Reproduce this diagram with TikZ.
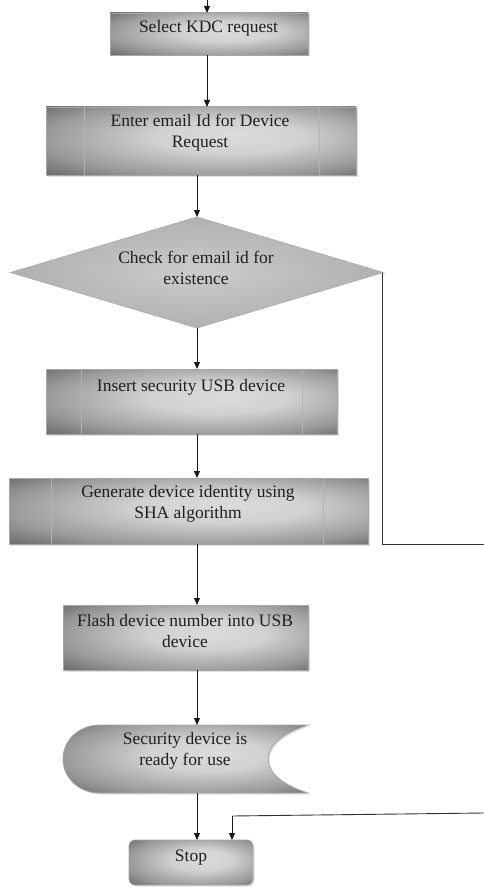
\documentclass[tikz,border=0pt]{standalone}
\usepackage{fontspec}
\setmainfont{Liberation Serif}
\usetikzlibrary{arrows.meta,shapes.geometric,shadows}
% soft grey fill: light in the middle, darker towards the corners
\pgfdeclareradialshading{greyglow}{\pgfpoint{6bp}{4bp}}{%
  color(0bp)=(black!14); color(12bp)=(black!18); color(28bp)=(black!40);
  color(40bp)=(black!64); color(50bp)=(black!72)}
\begin{document}
\begin{tikzpicture}[x=1pt,y=-1pt,
  every node/.style={inner sep=0pt,outer sep=0pt},
  boxfill/.style={draw=gray!70,line width=0.8pt,shading=greyglow,
    drop shadow={opacity=0.25,shadow xshift=1.5pt,shadow yshift=-1.5pt}},
  procbox/.style={rectangle,boxfill},
  txt/.style={font=\fontsize{17.5}{20.7}\selectfont,text=black!88,align=center},
  arr/.style={draw=black!90,line width=1pt,-{Triangle[width=6pt,length=7pt]}},
  flow/.style={draw=black!80,line width=0.9pt},
  inner/.style={draw=gray!60,line width=0.7pt}]
\useasboundingbox (0,0) rectangle (484,888);

% column guides for the connectors
\coordinate (ca) at (207,0);
\coordinate (cb) at (197,0);

% process steps
\node[procbox,minimum width=198pt,minimum height=42pt] (kdc) at (209,34) {};
\node[procbox,minimum width=310pt,minimum height=68pt] (email) at (201,141) {};
\draw[inner] ([xshift=38pt]email.north west) -- ([xshift=38pt]email.south west);
\draw[inner] ([xshift=-37pt]email.north east) -- ([xshift=-37pt]email.south east);

\node[diamond,draw=gray!60,line width=0.8pt,inner color=gray!40,outer color=gray!62,
  minimum width=373pt,minimum height=111pt] (check) at (197,272.5) {};

\node[procbox,minimum width=291pt,minimum height=65pt] (usb) at (191.5,401.5) {};
\draw[inner] ([xshift=35pt]usb.north west) -- ([xshift=35pt]usb.south west);
\draw[inner] ([xshift=-35pt]usb.north east) -- ([xshift=-35pt]usb.south east);

\node[procbox,minimum width=359pt,minimum height=66pt] (sha) at (188.5,511) {};
\draw[inner] ([xshift=42pt]sha.north west) -- ([xshift=42pt]sha.south west);
\draw[inner] ([xshift=-45pt]sha.north east) -- ([xshift=-45pt]sha.south east);

\node[procbox,minimum width=245pt,minimum height=65pt] (flash) at (185.5,637.5) {};

% display symbol
\path[boxfill] (100,725) -- (308,725)
  .. controls (283,733) and (268,745) .. (268,759)
  .. controls (268,773) and (283,785) .. (308,793)
  -- (100,793)
  .. controls (79,793) and (63,778) .. (63,759)
  .. controls (63,740) and (79,725) .. (100,725) -- cycle;
\node[rectangle,minimum width=245pt,minimum height=68pt] (ready) at (185.5,759) {};

\node[rectangle,rounded corners=6pt,boxfill,minimum width=124pt,minimum height=45pt] (stop) at (191,862.5) {};

% labels
\node[txt] at (208.5,28) {Select KDC request};
\node[txt] at (200,133) {Enter email Id for Device\\Request};
\node[txt] at (196,268) {Check for email id for\\existence};
\node[txt] at (191,387) {Insert security USB device};
\node[txt] at (188,504) {Generate device identity using\\SHA algorithm};
\node[txt] at (185,631) {Flash device number into USB\\device};
\node[txt] at (185,751) {Security device is\\ready for use};
\node[txt] at (191,858) {Stop};

% connectors
\draw[arr] (ca) -- (kdc.north -| ca);
\draw[arr] (kdc.south -| ca) -- (email.north -| ca);
\draw[arr] (email.south -| cb) -- (check.north);
\draw[arr] (check.south) -- (usb.north -| cb);
\draw[arr] (usb.south -| cb) -- (sha.north -| cb);
\draw[arr] (sha.south -| cb) -- (flash.north -| cb);
\draw[arr] (flash.south -| cb) -- (ready.north -| cb);
\draw[arr] (ready.south -| cb) -- (stop.north -| cb);

% branch leaving the decision, and the return into Stop
\coordinate (exitR) at (484,544);
\coordinate (backR) at (484,813);
\coordinate (backC) at (232,816);
\draw[flow] (382,272.5) coordinate (tip) -- (tip |- exitR) -- (exitR);
\draw[flow] (backR) -- (backC);
\draw[arr] (backC) -- (stop.north -| backC);
\end{tikzpicture}
\end{document}
